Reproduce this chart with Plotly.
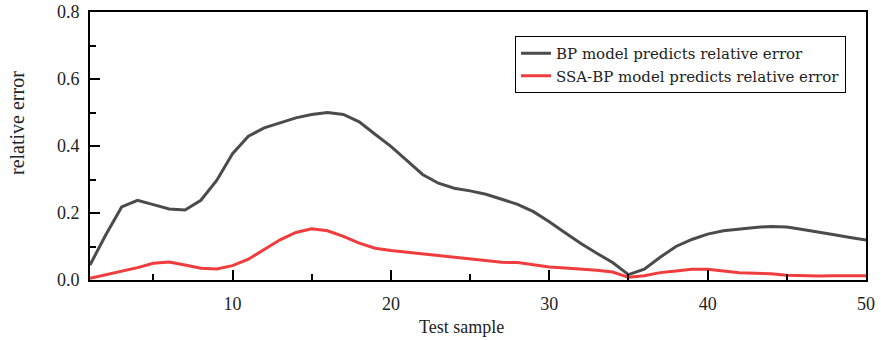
import plotly.graph_objects as go

samples = list(range(1, 51))
bp_error = [0.045, 0.135, 0.218, 0.238, 0.225, 0.212, 0.209, 0.238, 0.297, 0.377,
            0.429, 0.454, 0.469, 0.484, 0.494, 0.500, 0.494, 0.472, 0.435, 0.399,
            0.357, 0.315, 0.289, 0.274, 0.266, 0.256, 0.241, 0.226, 0.204, 0.174,
            0.141, 0.109, 0.080, 0.052, 0.016, 0.032, 0.068, 0.100, 0.121, 0.137,
            0.147, 0.153, 0.157, 0.160, 0.158, 0.151, 0.144, 0.135, 0.127, 0.119]
ssa_bp_error = [0.005, 0.015, 0.025, 0.037, 0.050, 0.054, 0.045, 0.035, 0.033, 0.043,
                0.062, 0.090, 0.120, 0.142, 0.153, 0.147, 0.130, 0.110, 0.095, 0.088,
                0.083, 0.077, 0.072, 0.068, 0.063, 0.058, 0.053, 0.052, 0.045, 0.039,
                0.036, 0.033, 0.029, 0.024, 0.008, 0.013, 0.022, 0.027, 0.032, 0.032,
                0.026, 0.022, 0.020, 0.019, 0.014, 0.012, 0.012, 0.013, 0.013, 0.013]
x_ticks = [10, 20, 30, 40, 50]
y_ticks = [0.0, 0.2, 0.4, 0.6, 0.8]
y_tick_labels = ["0.0", "0.2", "0.4", "0.6", "0.8"]

FONT = "Liberation Serif"
LEGEND_FONT = "DejaVu Serif"
W, H = 881, 340
L, T, R, B = 90, 12, 15, 60
PW, PH = W - L - R, H - T - B

fig = go.Figure()
fig.add_trace(go.Scatter(x=samples, y=bp_error, mode="lines",
                         name="BP model predicts relative error",
                         line=dict(color="#4b4b4b", width=3)))
fig.add_trace(go.Scatter(x=samples, y=ssa_bp_error, mode="lines",
                         name="SSA-BP model predicts relative error",
                         line=dict(color="#f03c3c", width=3)))

fig.update_layout(
    width=W, height=H,
    margin=dict(l=L, r=R, t=T, b=B, autoexpand=False),
    paper_bgcolor="white", plot_bgcolor="white",
    font=dict(family=FONT, size=17, color="#222"),
    showlegend=True,
    legend=dict(x=(515 - 90) / PW, y=(280 - 64.5) / PH, xanchor="left", yanchor="middle",
                bordercolor="black", borderwidth=1, bgcolor="white",
                font=dict(family=LEGEND_FONT, size=15, color="#222"),
                tracegroupgap=0, itemwidth=30),
)
fig.update_xaxes(
    range=[1, 50], tickvals=x_ticks, ticks="inside", ticklen=10, tickwidth=2,
    tickcolor="black", showline=True, linecolor="black", linewidth=2,
    mirror=True, showgrid=False, zeroline=False, ticklabeloverflow="allow",
    ticklabelstandoff=6, automargin=False,
    minor=dict(tickvals=[5, 15, 25, 35, 45], ticks="inside", ticklen=6,
               tickwidth=2, tickcolor="black"),
    tickfont=dict(family=FONT, size=18, color="#222"),
)
fig.update_yaxes(
    range=[0, 0.8], tickvals=y_ticks, ticktext=y_tick_labels, ticks="inside",
    ticklen=10, tickwidth=2, tickcolor="black", showline=True,
    linecolor="black", linewidth=2, mirror=True, showgrid=False, zeroline=False,
    ticklabeloverflow="allow", ticklabelstandoff=5, automargin=False,
    minor=dict(tickvals=[0.1, 0.3, 0.5, 0.7], ticks="inside", ticklen=6,
               tickwidth=2, tickcolor="black"),
    tickfont=dict(family=FONT, size=18, color="#222"),
)
fig.add_annotation(text="Test sample", xref="paper", yref="paper",
                   x=(461 - 90) / PW, y=(280 - 327) / PH,
                   xanchor="center", yanchor="middle", showarrow=False,
                   font=dict(family=FONT, size=18, color="#222"))
fig.add_annotation(text="relative error", xref="paper", yref="paper",
                   x=(17 - 90) / PW, y=(280 - 123) / PH, textangle=-90,
                   xanchor="center", yanchor="middle", showarrow=False,
                   font=dict(family=FONT, size=20, color="#222"))

fig.write_html("out.html", config={"displayModeBar": False},
               post_script="document.body.style.margin='0';document.body.style.overflow='hidden';")
